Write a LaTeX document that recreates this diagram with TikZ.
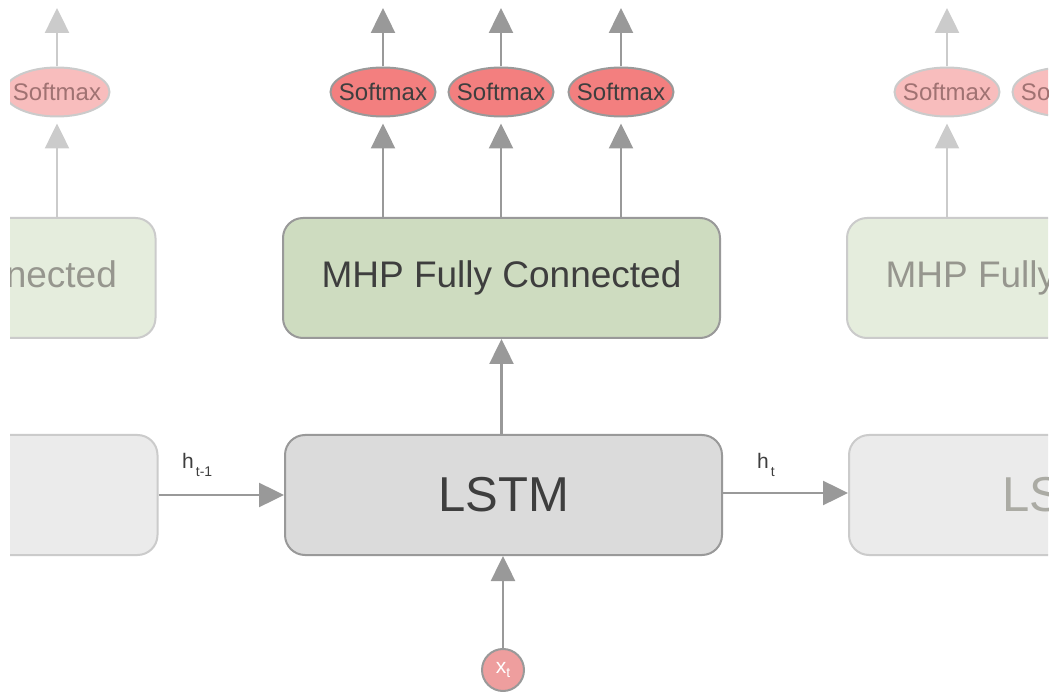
\documentclass[tikz,border=0pt]{standalone}
\usepackage{fontspec}
\setmainfont{Liberation Sans}
\usetikzlibrary{arrows.meta,shapes.geometric}

\definecolor{edge}{HTML}{999999}
\definecolor{edgefade}{HTML}{CBCBCB}
\definecolor{lstmfill}{HTML}{DBDBDB}
\definecolor{lstmfade}{HTML}{EBEBEB}
\definecolor{fcfill}{HTML}{CEDCC0}
\definecolor{fcfade}{HTML}{E5EDDD}
\definecolor{smfill}{HTML}{F37F7F}
\definecolor{smfade}{HTML}{F8BDBD}
\definecolor{xfill}{HTML}{EE9E9E}
\definecolor{ink}{HTML}{3E3E3E}
\definecolor{inkfade}{HTML}{96968E}
\definecolor{smink}{HTML}{A07272}

\tikzset{
  box/.style={draw=edge, line width=2pt, rounded corners=20pt,
    minimum width=437pt, minimum height=120pt, inner sep=0pt, text=ink},
  lstm/.style={box, fill=lstmfill, font=\fontsize{49}{52}\selectfont},
  lstmfaded/.style={lstm, draw=edgefade, fill=lstmfade, text=inkfade!80!white},
  fc/.style={box, fill=fcfill, font=\fontsize{37}{40}\selectfont},
  fcfaded/.style={fc, draw=edgefade, fill=fcfade, text=inkfade},
  smax/.style={ellipse, draw=edge, line width=2pt, fill=smfill,
    minimum width=105pt, minimum height=49pt, inner xsep=-8pt, inner ysep=0pt,
    text=ink, font=\fontsize{24}{26}\selectfont},
  smaxfaded/.style={smax, draw=edgefade, fill=smfade, text=smink},
  link/.style={draw=edge, line width=2.5pt,
    -{Triangle[length=25pt,width=24pt]}},
  linkfaded/.style={link, draw=edgefade},
  lbl/.style={text=ink, inner sep=0pt, font=\fontsize{21}{22}\selectfont}
}

\begin{document}
\begin{tikzpicture}[x=1pt, y=-1pt]
\useasboundingbox (0,0) rectangle (1055,692);
\clip (10,0) rectangle (1048,692);

% ---- previous time step (faded, left) ----
\node[lstmfaded] (lstmL) at (-61,495) {LSTM};
\node[fcfaded] (fcL) at (-63,278) {MHP Fully Connected};
\node[smaxfaded] (smL) at (57,92) {Softmax};
\coordinate (outL) at (57,8);
\draw[linkfaded, shorten >=6pt] (fcL.north -| smL) -- (smL.south);
\draw[linkfaded] (smL.north) -- (outL);

% ---- current time step ----
\node[lstm] (lstm) at (503.5,495) {LSTM};
\node[fc] (fc) at (501.5,278) {MHP Fully Connected};
\node[smax] (sm1) at (383,92) {Softmax};
\node[smax] (sm2) at (501,92) {Softmax};
\node[smax] (sm3) at (621,92) {Softmax};
\coordinate (out1) at (383,8);
\coordinate (out2) at (501,8);
\coordinate (out3) at (621,8);
\foreach \i in {1,2,3}{
  \draw[link, shorten >=6pt] (fc.north -| sm\i) -- (sm\i.south);
  \draw[link] (sm\i.north) -- (out\i);
}
\draw[link] (lstm.north -| fc) -- (fc.south);

\node[circle, draw=edge, line width=2pt, fill=xfill, minimum size=42pt,
  inner sep=0pt, text=white, font=\fontsize{21}{22}\selectfont]
  (xt) at (503,670) {x\raisebox{-0.35ex}{\fontsize{14}{15}\selectfont t}};
\draw[link] (xt.north) -- (xt.north |- lstm.south);

% ---- next time step (faded, right) ----
\node[lstmfaded] (lstmR) at (1067.5,495) {LSTM};
\node[fcfaded] (fcR) at (1065.5,278) {MHP Fully Connected};
\node[smaxfaded] (smR1) at (947,92) {Softmax};
\node[smaxfaded] (smR2) at (1065,92) {Softmax};
\coordinate (outR) at (947,8);
\draw[linkfaded, shorten >=6pt] (fcR.north -| smR1) -- (smR1.south);
\draw[linkfaded] (smR1.north) -- (outR);

% ---- recurrent hidden state ----
\draw[link] (lstmL.east |- 0,495) -- (lstm.west |- 0,495);
\draw[link] (lstm.east |- 0,493) -- (lstmR.west |- 0,493);
\node[lbl, anchor=base west] (hprev) at (182,468)
  {h\hspace{2pt}\raisebox{-0.75ex}{\fontsize{14}{15}\selectfont t-1}};
\node[lbl, anchor=base west] (hcur) at (757,468)
  {h\hspace{2pt}\raisebox{-0.75ex}{\fontsize{14}{15}\selectfont t}};
\end{tikzpicture}
\end{document}
